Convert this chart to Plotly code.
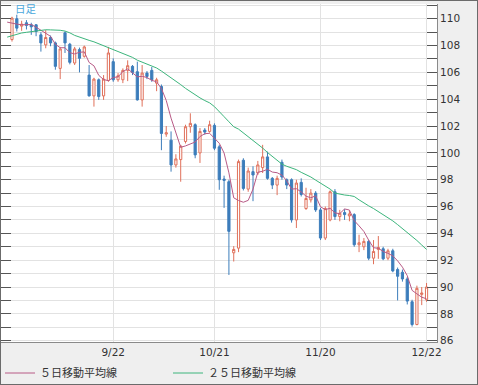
import plotly.graph_objects as go

# ---------------- data ----------------
dates = ["8/21", "8/22", "8/25", "8/26", "8/27", "8/28", "8/29",
         "9/1", "9/2", "9/3", "9/4", "9/5", "9/8", "9/9", "9/10", "9/11", "9/12",
         "9/15", "9/16", "9/17", "9/18", "9/19", "9/22", "9/23", "9/24", "9/25", "9/26",
         "9/29", "9/30",
         "10/1", "10/2", "10/3", "10/6", "10/7", "10/8", "10/9", "10/10", "10/13", "10/14",
         "10/15", "10/16", "10/17", "10/20", "10/21", "10/22", "10/23", "10/24", "10/27",
         "10/28", "10/29", "10/30", "10/31",
         "11/3", "11/4", "11/5", "11/6", "11/7", "11/10", "11/11", "11/12", "11/13", "11/14",
         "11/17", "11/18", "11/19", "11/20", "11/21", "11/24", "11/25", "11/26", "11/27", "11/28",
         "12/1", "12/2", "12/3", "12/4", "12/5", "12/8", "12/9", "12/10", "12/11", "12/12",
         "12/15", "12/16", "12/17", "12/18", "12/19", "12/22"]

candle_dates = dates[1:]

open_ = [108.45, 110.0, 109.45, 109.7, 109.55, 109.55, 108.8, 108.05, 108.6, 108.2,
         106.3, 108.95, 108.1, 106.7, 107.7, 107.2, 105.8, 104.25, 105.45, 104.25,
         105.4, 106.8, 105.45, 105.45, 106.15, 106.45, 106.05, 103.95, 105.95, 106.15,
         105.2, 104.95, 101.4, 100.95, 99.1, 99.5, 100.85, 101.95, 102.1, 100.0,
         101.7, 101.6, 102.05, 100.45, 98.05, 97.85, 92.55, 92.9, 99.45, 97.3,
         98.6, 98.5, 98.9, 99.7, 98.1, 97.6, 99.3, 98.0, 98.0, 95.0,
         97.8, 95.85, 96.5, 97.0, 95.75, 93.65, 95.0, 97.1, 95.25, 95.55,
         95.3, 95.4, 93.15, 93.0, 93.4, 92.15, 92.8, 92.85, 92.15, 92.7,
         91.3, 91.1, 90.6, 88.9, 87.2, 89.45, 89.05]
high = [110.15, 110.3, 109.85, 109.9, 109.7, 109.6, 109.0, 109.15, 108.75, 108.3,
        107.9, 109.05, 108.2, 107.9, 107.85, 108.0, 106.55, 105.6, 105.55, 105.8,
        107.9, 107.05, 105.95, 106.3, 106.9, 106.55, 106.8, 106.55, 106.1, 106.4,
        105.6, 105.1, 102.0, 101.6, 99.9, 100.6, 102.1, 102.95, 102.2, 101.85,
        101.85, 102.4, 102.2, 100.6, 98.3, 98.0, 93.05, 99.5, 99.6, 98.9,
        99.0, 99.4, 100.6, 100.1, 98.2, 98.3, 99.5, 98.1, 98.1, 98.0,
        98.1, 97.4, 97.3, 97.15, 95.9, 96.0, 97.2, 97.3, 95.75, 95.8,
        95.7, 95.5, 93.9, 93.65, 93.5, 93.5, 93.8, 93.0, 92.85, 92.85,
        91.45, 91.3, 90.75, 89.05, 90.1, 90.0, 90.3]
low = [108.3, 109.05, 109.1, 109.2, 108.8, 108.7, 107.55, 107.8, 107.95, 106.2,
       105.5, 107.45, 106.6, 106.55, 106.0, 107.1, 104.2, 103.45, 103.95, 103.95,
       105.3, 105.3, 105.3, 105.2, 105.35, 105.8, 103.9, 103.45, 105.5, 105.3,
       104.6, 100.2, 101.2, 98.6, 98.9, 97.85, 100.7, 101.5, 99.6, 99.25,
       101.35, 101.5, 100.2, 97.25, 95.9, 90.9, 91.9, 92.6, 97.2, 97.1,
       96.4, 98.35, 98.5, 98.0, 97.3, 96.85, 98.0, 97.3, 94.8, 94.4,
       96.75, 95.75, 96.3, 95.6, 93.5, 93.5, 94.9, 95.0, 94.9, 95.0,
       94.9, 93.0, 92.6, 92.75, 92.0, 91.7, 92.1, 92.0, 92.0, 91.1,
       89.0, 90.4, 88.7, 87.05, 87.15, 88.65, 88.9]
close = [110.05, 109.3, 109.6, 109.5, 109.4, 109.05, 108.2, 108.6, 108.2, 106.45,
         107.75, 108.2, 106.75, 107.75, 107.05, 107.9, 104.25, 105.5, 104.2, 105.5,
         107.45, 105.45, 105.75, 106.15, 106.5, 106.0, 103.95, 105.95, 105.7, 105.45,
         105.45, 101.45, 101.5, 99.1, 99.55, 100.5, 101.95, 102.2, 99.85, 101.6,
         101.55, 102.1, 100.35, 98.0, 97.95, 94.15, 92.8, 99.35, 97.35, 98.65,
         98.35, 99.1, 99.7, 98.1, 97.6, 98.1, 98.2, 97.6, 95.0, 97.75,
         96.9, 96.6, 97.0, 95.75, 93.65, 95.85, 97.1, 95.25, 95.5, 95.4,
         95.45, 93.15, 93.3, 93.4, 92.15, 92.65, 92.95, 92.1, 92.7, 91.2,
         90.8, 90.6, 88.95, 87.2, 89.9, 89.55, 90.0]

ma5 = [109.75, 109.65, 109.6, 109.55, 109.55, 109.57, 109.37, 109.15, 108.95, 108.69,
       108.1, 107.84, 107.84, 107.47, 107.38, 107.5, 107.53, 106.74, 106.49, 105.78,
       105.47, 105.38, 105.62, 105.67, 106.06, 106.26, 105.97, 105.67, 105.71, 105.62,
       105.41, 105.3, 104.8, 103.91, 102.59, 101.41, 100.42, 100.52, 100.66, 100.81,
       101.22, 101.43, 101.46, 101.09, 100.72, 99.99, 98.51, 96.65, 96.45, 96.32,
       96.46, 97.3, 98.56, 98.63, 98.78, 98.57, 98.52, 98.34, 97.92, 97.3,
       97.33, 97.09, 96.77, 96.65, 96.8, 95.98, 95.77, 95.87, 95.52, 95.47,
       95.82, 95.74, 94.95, 94.56, 94.14, 93.49, 92.93, 92.89, 92.65, 92.51,
       92.32, 91.95, 91.48, 90.85, 89.75, 89.49, 89.24, 89.12]
ma25 = [108.63, 108.75, 108.86, 108.94, 108.99, 109.04, 109.09, 109.15, 109.18, 109.17,
        109.16, 109.14, 109.08, 108.95, 108.76, 108.62, 108.5, 108.39, 108.28, 108.14,
        108.0, 107.86, 107.72, 107.57, 107.43, 107.29, 107.12, 106.91, 106.77, 106.64,
        106.5, 106.33, 106.1, 105.85, 105.63, 105.35, 105.09, 104.81, 104.55, 104.3,
        104.1, 103.9, 103.73, 103.45, 103.1, 102.7, 102.32, 101.95, 101.77, 101.5,
        101.2, 100.93, 100.65, 100.36, 100.03, 99.73, 99.45, 99.16, 99.0, 98.87,
        98.75, 98.55, 98.38, 98.2, 97.97, 97.75, 97.55, 97.3, 97.0, 96.92,
        96.86, 96.82, 96.75, 96.5, 96.25, 96.05, 95.85, 95.63, 95.4, 95.2,
        94.93, 94.65, 94.37, 94.08, 93.8, 93.47, 93.13, 92.8]

x_tick_labels = ["9/22", "10/21", "11/20", "12/22"]
series_names = ["５日移動平均線", "２５日移動平均線"]
title_label = "日足"

# ---------------- styles ----------------
UP = "#e0705a"
DOWN = "#3c7dbb"
MA5_COLOR = "#b85a86"
MA25_COLOR = "#3cb57c"
GRID = "#e2e2e2"
TICK = "#555555"
FONT = "DejaVu Sans"
CJK = "Noto Sans CJK JP"

W, H = 478, 385
ML, MR, MT, MB = 1, 41, 4, 43
PW, PH = W - ML - MR, H - MT - MB

fig = go.Figure()
fig.add_trace(go.Candlestick(
    x=candle_dates, open=open_, high=high, low=low, close=close,
    increasing=dict(line=dict(color=UP, width=1), fillcolor="white"),
    decreasing=dict(line=dict(color=DOWN, width=1), fillcolor=DOWN),
    whiskerwidth=0, showlegend=False, hoverinfo="skip"))
fig.add_trace(go.Scatter(x=dates, y=ma5, mode="lines", name=series_names[0],
                         line=dict(color=MA5_COLOR, width=1)))
fig.add_trace(go.Scatter(x=dates, y=ma25, mode="lines", name=series_names[1],
                         line=dict(color=MA25_COLOR, width=1)))

yr = [85.9, 111.1]
fig.update_layout(
    width=W, height=H,
    margin=dict(l=ML, r=MR, t=MT, b=MB, pad=0, autoexpand=False),
    paper_bgcolor="#efefef", plot_bgcolor="white",
    boxgap=0.35,
    font=dict(family=FONT, size=10.5, color="#333333"),
    xaxis=dict(type="category", categoryorder="array", categoryarray=dates,
               range=[-1.28, 89.17], tickmode="array",
               tickvals=x_tick_labels, ticktext=x_tick_labels,
               showgrid=True, gridcolor=GRID, gridwidth=1, ticks="",
               showline=True, linecolor="#8a8a8a", linewidth=1,
               zeroline=False, rangeslider=dict(visible=False),
               tickfont=dict(family=FONT, size=10.5, color="#333333"),
               automargin=False, fixedrange=True),
    yaxis=dict(side="right", range=yr, tick0=86, dtick=2,
               ticks="inside", ticklen=10, tickcolor=TICK, tickwidth=1,
               showgrid=True, gridcolor=GRID, gridwidth=1,
               minor=dict(tick0=86, dtick=1, ticks="inside", ticklen=10,
                          tickcolor=TICK, showgrid=True, gridcolor=GRID),
               showline=True, linecolor="#8a8a8a", mirror="ticks",
               zeroline=False, automargin=False, fixedrange=True,
               tickfont=dict(family=FONT, size=10.5, color="#333333")),
    yaxis2=dict(overlaying="y", side="right", range=yr, tick0=86, dtick=0.5,
                ticks="inside", ticklen=5, tickcolor=TICK, tickwidth=1,
                showticklabels=False, showgrid=False, zeroline=False,
                showline=False, mirror="ticks", automargin=False, fixedrange=True),
    legend=dict(orientation="h", xref="container", yref="container",
                x=0.0, xanchor="left",
                y=(H - 373) / H, yanchor="middle",
                font=dict(family=CJK, size=11, color="#333333"),
                bgcolor="rgba(0,0,0,0)", entrywidth=123, entrywidthmode="pixels",
                itemwidth=30),
    showlegend=True,
    annotations=[dict(text=title_label, xref="paper", yref="paper",
                      x=12 / PW, y=(PH + MT - 8.5) / PH, xanchor="left", yanchor="middle",
                      showarrow=False, font=dict(family=CJK, size=10.5, color="#4aa8dc"))],
    shapes=[dict(type="rect", xref="paper", yref="paper",
                 x0=-ML / PW, x1=1 + MR / PW, y0=-MB / PH, y1=1 + MT / PH,
                 line=dict(color="#6b6b6b", width=2), layer="above")],
)

fig.write_html("out.html",
               config={"displayModeBar": False},
               post_script="document.body.style.margin='0px';"
                           "document.body.style.padding='0px';"
                           "document.documentElement.style.overflow='hidden';")
